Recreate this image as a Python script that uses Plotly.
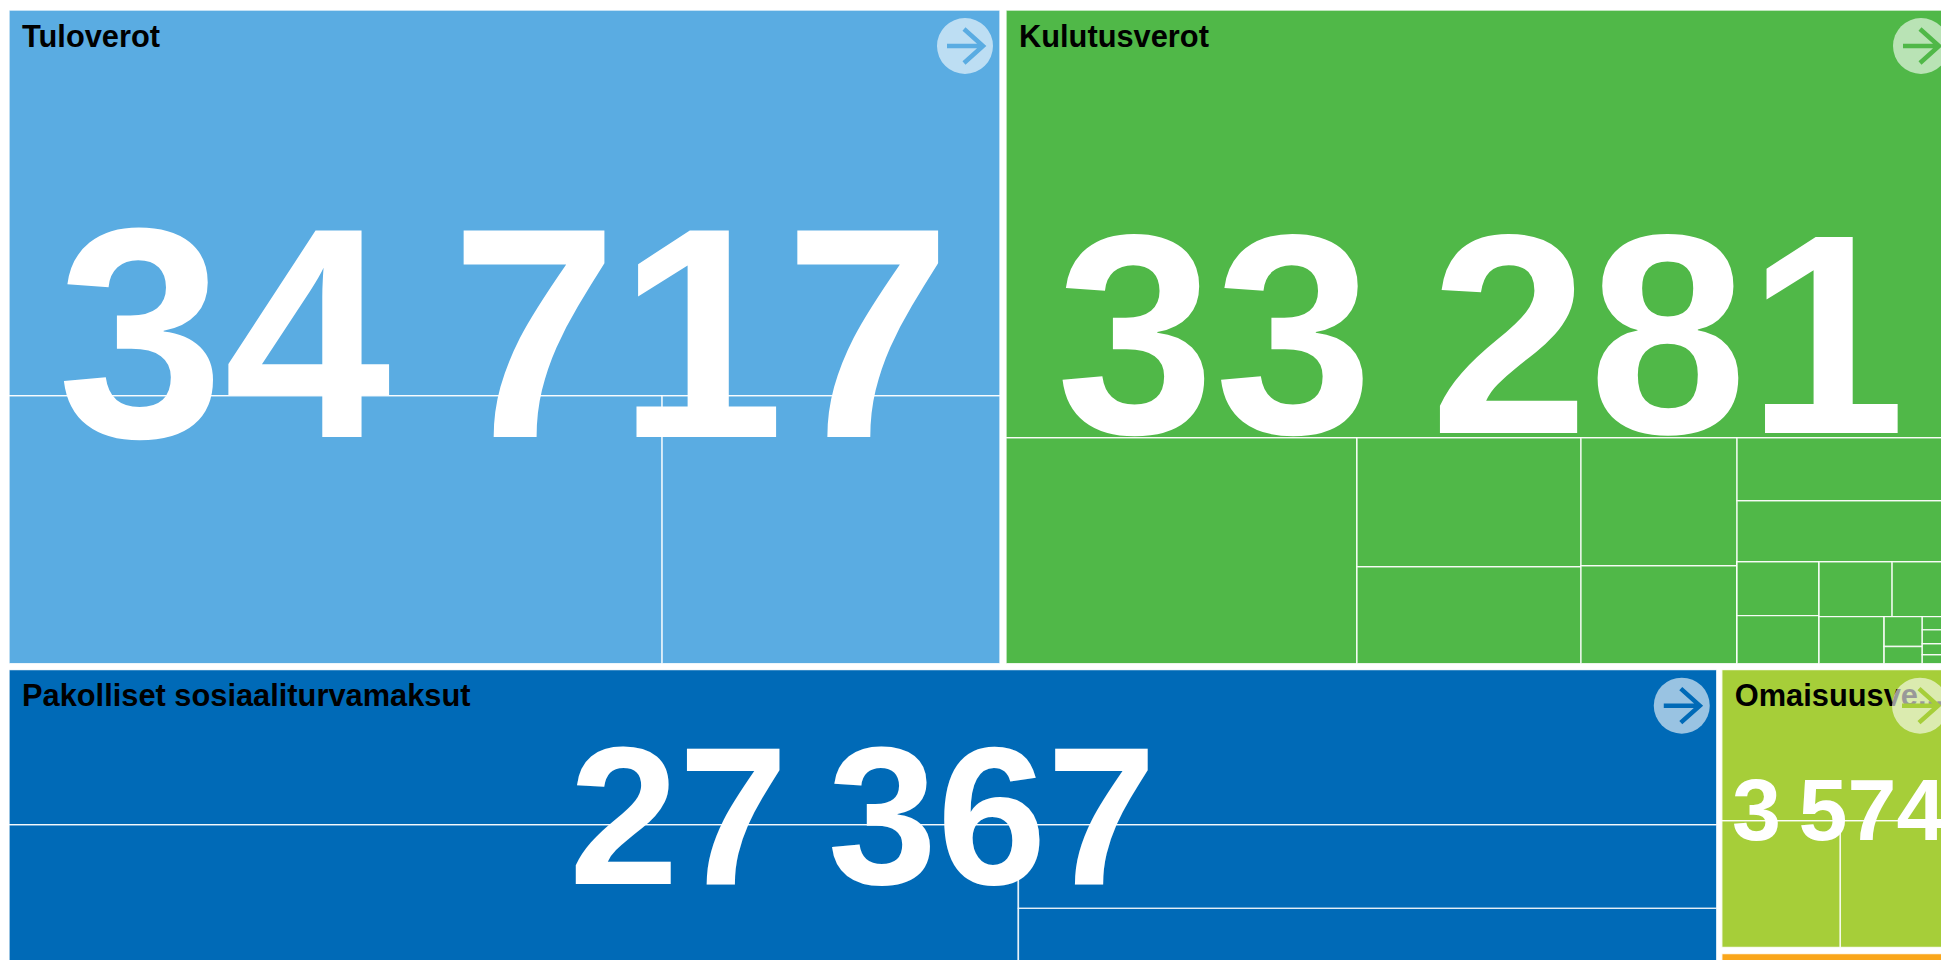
import plotly.graph_objects as go

# ---------- data ----------
categories = ["Tuloverot", "Kulutusverot", "Pakolliset sosiaaliturvamaksut", "Omaisuusverot", "Muut verot"]
totals = [34717, 33281, 27367, 3574, 200]
short_titles = ["Tuloverot", "Kulutusverot", "Pakolliset sosiaaliturvamaksut", "Omaisuusve...", ""]
colors = ["#5AACE2", "#50B848", "#006AB7", "#A6CE39", "#FAA61A"]

tulo_ids = ["root", "t1", "g1", "t2", "t3"]
tulo_parents = ["", "root", "root", "g1", "g1"]
tulo_values = [0, 20490, 0, 9376, 4851]

kulu_ids = ["root", "k1", "g1", "k2", "b", "k3", "k4", "c", "k5", "k6", "d", "k7", "k8", "r",
            "e", "k9", "k10", "s", "t", "k11", "k12", "l", "k13", "m", "k14", "k15", "n",
            "k16", "k17", "k18", "k19"]
kulu_parents = ["", "root", "root", "g1", "g1", "b", "b", "g1", "c", "c", "g1", "d", "d", "d",
                "r", "e", "e", "r", "s", "t", "t", "s", "l", "l", "m", "m", "l",
                "n", "n", "n", "n"]
kulu_values = [0, 21780, 0, 4249, 0, 1548, 1164, 0, 1070, 819, 0, 739, 716, 0,
               0, 237, 211, 0, 0, 215, 188, 0, 164, 0, 61, 35, 0,
               24, 25, 20, 16]

sosi_ids = ["root", "s1", "g1", "s2", "g2", "s3", "s4"]
sosi_parents = ["", "root", "root", "g1", "g1", "g2", "g2"]
sosi_values = [0, 14186, 0, 7791, 0, 3122, 2268]

omai_ids = ["root", "o1", "g1", "o2", "o3"]
omai_parents = ["", "root", "root", "g1", "g1"]
omai_values = [0, 1943, 0, 829, 802]

muut_ids = ["root", "m1"]
muut_parents = ["", "root"]
muut_values = [0, 200]

# ---------- style / layout constants ----------
FONT = "Liberation Sans"
W, H = 1960, 970            # figure in px, deliberately larger than the window
LEFT, TOP = 1, 2            # plot offset inside the figure
AREA_W, AREA_H = 1947, 959  # treemap area including gaps
GAP = 6
ROW2_GAP = 5
ROW2_NUDGE = 2
NUMBER_SIZES = [300, 285, 197, 88, 0]
NUMBER_SHIFTS = [4, 3, 3, -1, 0]
THOUSANDS = "\u2009"
ICON_R = 28

# ---------- layout of the five blocks from the values ----------
tot = sum(totals)
inner_h = AREA_H - GAP
inner_w = AREA_W - GAP
row1 = totals[0] + totals[1]
row2 = tot - row1
h1 = inner_h * row1 / tot
h2 = inner_h * row2 / tot
w0 = inner_w * totals[0] / row1
w2 = inner_w * totals[2] / row2 + ROW2_NUDGE
w3 = inner_w - w2
h3 = (h2 - GAP) * totals[3] / (totals[3] + totals[4])
h4 = (h2 - GAP) - h3
y2 = TOP + h1 + GAP
x3 = LEFT + w2 + ROW2_GAP
rects = [
    (LEFT, TOP, w0, h1),
    (LEFT + w0 + GAP, TOP, inner_w - w0, h1),
    (LEFT, y2, w2, h2),
    (x3, y2, w3, h3),
    (x3, y2 + h3 + GAP, w3, h4),
]
hier = [
    (tulo_ids, tulo_parents, tulo_values),
    (kulu_ids, kulu_parents, kulu_values),
    (sosi_ids, sosi_parents, sosi_values),
    (omai_ids, omai_parents, omai_values),
    (muut_ids, muut_parents, muut_values),
]


def fx(px):
    return px / W


def fy(px):
    return 1 - px / H


fig = go.Figure()
annotations, title_shapes, icon_shapes = [], [], []
for i, ((x, y, w, h), (ids, parents, values)) in enumerate(zip(rects, hier)):
    fig.add_trace(go.Treemap(
        ids=ids, labels=ids, parents=parents, values=values,
        branchvalues="remainder", sort=False,
        tiling=dict(packing="dice-slice", pad=0),
        pathbar=dict(visible=False),
        textinfo="none", hoverinfo="skip",
        name=categories[i],
        marker=dict(colors=[colors[i]] * len(ids),
                    line=dict(color="rgba(255,255,255,0.85)", width=1.4),
                    pad=dict(t=0, l=0, r=0, b=0)),
        root=dict(color=colors[i]),
        domain=dict(x=[fx(x), min(fx(x + w), 1)], y=[max(fy(y + h), 0), fy(y)]),
    ))
    if short_titles[i]:
        title_shapes.append(dict(
            type="rect", xref="paper", yref="paper",
            x0=fx(x + 1), x1=fx(x + w), y0=fy(y + h), y1=fy(y - 3),
            line=dict(width=0), fillcolor="rgba(0,0,0,0)",
            label=dict(text=f"<b>{short_titles[i]}</b>", textposition="top left",
                       padding=9, font=dict(family=FONT, size=30.8, color="#000000")),
        ))
        ax, ay = fx(x + w - 35), fy(y + 36)
        icon_shapes.append(dict(
            type="circle", xref="paper", yref="paper",
            xsizemode="pixel", ysizemode="pixel", xanchor=ax, yanchor=ay,
            x0=-ICON_R, x1=ICON_R, y0=-ICON_R, y1=ICON_R,
            fillcolor="rgba(255,255,255,0.6)", line=dict(width=0),
        ))
        icon_shapes.append(dict(
            type="path", xref="paper", yref="paper",
            xsizemode="pixel", ysizemode="pixel", xanchor=ax, yanchor=ay,
            path="M -18 0 L 18 0 M -1 17 L 18 0 L -1 -17",
            line=dict(color=colors[i], width=4.5), fillcolor="rgba(0,0,0,0)",
        ))
        annotations.append(dict(
            xref="paper", yref="paper", x=fx(x + w / 2), y=fy(y + h / 2),
            xanchor="center", yanchor="middle", showarrow=False, yshift=NUMBER_SHIFTS[i],
            text="<b>" + f"{totals[i]:,}".replace(",", THOUSANDS) + "</b>",
            font=dict(family=FONT, size=NUMBER_SIZES[i], color="#FFFFFF"),
        ))

fig.update_layout(
    width=W, height=H, autosize=False,
    margin=dict(l=0, r=0, t=0, b=0),
    paper_bgcolor="#FFFFFF",
    showlegend=False,
    annotations=annotations,
    shapes=title_shapes + icon_shapes,
)
fig.write_html(
    "out.html",
    config=dict(displayModeBar=False, responsive=False),
    post_script=("document.documentElement.style.overflow='hidden';"
                 "document.body.style.width='1975px';"),
)
